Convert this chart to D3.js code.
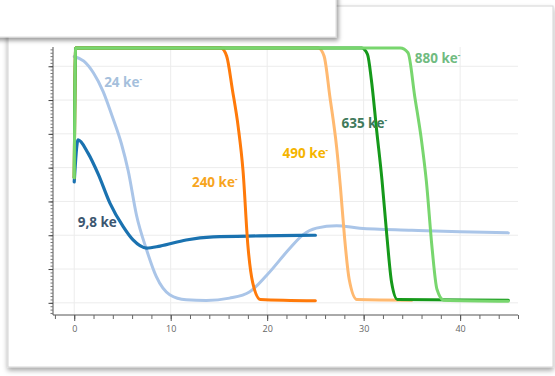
<!DOCTYPE html>
<html>
<head>
<meta charset="utf-8">
<script src="https://cdn.jsdelivr.net/npm/d3@7"></script>
<style>
  html, body { margin: 0; padding: 0; background: #fff; }
  svg { display: block; }
</style>
</head>
<body>
<div id="chart"></div>
<script>
// series, x = time, v = signal (arbitrary units, gridline = 1)
const x24 = [0, 1.0, 2.0, 3.0, 3.9, 4.9, 5.6, 6.45, 7.5, 8.5, 9.9, 11.6, 13.7, 16.1, 18.2, 20, 22.4, 23.7, 25.1, 27.2, 29.6, 35, 40, 45]
const v24 = [7.29, 7.15, 6.8, 6.25, 5.55, 4.7, 3.9, 2.6, 1.57, 0.78, 0.24, 0.09, 0.07, 0.14, 0.33, 0.83, 1.63, 2.01, 2.21, 2.28, 2.21, 2.15, 2.1, 2.07]
const x98 = [0, 0.4, 1.43, 2.5, 3.7, 5.06, 6.1, 7.5, 8.9, 11.6, 14.4, 19.2, 25]
const v98 = [3.58, 4.82, 4.43, 3.8, 2.95, 2.26, 1.86, 1.62, 1.68, 1.86, 1.95, 1.98, 2.0]
const x240 = [0, 0.15, 15.2, 15.8, 16.4, 17.0, 17.5, 18.0, 18.5, 19.3, 25]
const v240 = [3.7, 7.54, 7.54, 7.3, 6.3, 5.2, 3.9, 1.7, 0.6, 0.1, 0.06]
const x490 = [0, 0.15, 25.3, 25.9, 26.5, 27.2, 27.6, 28.0, 28.5, 29.3, 35]
const v490 = [3.7, 7.54, 7.54, 7.3, 6.1, 4.6, 3.4, 2.0, 0.7, 0.1, 0.08]
const x635 = [0, 0.15, 29.8, 30.4, 30.8, 31.35, 31.9, 32.4, 32.9, 33.5, 45]
const v635 = [3.7, 7.54, 7.54, 7.35, 6.6, 5.1, 3.64, 2.0, 0.6, 0.1, 0.08]
const x880 = [0, 0.15, 33.8, 34.6, 35.3, 36.0, 36.5, 37.1, 37.6, 38.3, 45]
const v880 = [3.7, 7.54, 7.54, 7.4, 6.1, 4.8, 3.6, 1.6, 0.4, 0.08, 0.05]

const seriesNames = ['24', '9,8', '240', '490', '635', '880']
const xTicks = [0, 10, 20, 30, 40]
const yTicks = [0, 1, 2, 3, 4, 5, 6, 7]

const width = 555
const height = 376

const svg = d3.select('#chart')
  .append('svg')
  .attr('width', width)
  .attr('height', height)

const defs = svg.append('defs')
const sh = defs.append('filter').attr('id', 'shadow')
  .attr('x', '-5%').attr('y', '-5%').attr('width', '110%').attr('height', '115%')
sh.append('feDropShadow').attr('dx', 0).attr('dy', 3).attr('stdDeviation', 2.5)
  .attr('flood-color', '#000').attr('flood-opacity', 0.35)
const sh2 = defs.append('filter').attr('id', 'shadow2')
  .attr('x', '-5%').attr('y', '-20%').attr('width', '115%').attr('height', '160%')
sh2.append('feDropShadow').attr('dx', 2).attr('dy', 3).attr('stdDeviation', 2)
  .attr('flood-color', '#000').attr('flood-opacity', 0.4)

// card
svg.append('rect')
  .attr('x', 8).attr('y', 6).attr('width', 545).attr('height', 361)
  .attr('fill', '#fff')
  .attr('stroke', '#d4d4d4')
  .attr('filter', 'url(#shadow)')

const x = d3.scaleLinear().domain([-2.2, 46]).range([53, 518])
const y = d3.scaleLinear().domain([-0.36, 7.57]).range([315, 47])

const g = svg.append('g')

// grid
g.selectAll('.hgrid').data(yTicks).enter().append('line')
  .attr('x1', x(-2.2)).attr('x2', x(46))
  .attr('y1', d => y(d)).attr('y2', d => y(d))
  .attr('stroke', '#ececec').attr('stroke-width', 1)
g.selectAll('.vgrid').data(xTicks).enter().append('line')
  .attr('x1', d => x(d)).attr('x2', d => x(d))
  .attr('y1', y(7.57)).attr('y2', y(-0.36))
  .attr('stroke', '#ececec').attr('stroke-width', 1)

// x axis: minor then major
const xMinor = g.append('g').attr('transform', `translate(0,${y(-0.36)})`)
  .call(d3.axisBottom(x).tickValues(d3.range(-2, 47, 2)).tickSize(4).tickFormat(''))
const xMajor = g.append('g').attr('transform', `translate(0,${y(-0.36)})`)
  .call(d3.axisBottom(x).tickValues(xTicks).tickSize(6).tickFormat(d3.format('d')))
xMinor.select('.domain').attr('stroke', '#555').attr('d', `M${x(-2.2)},0H${x(46)}`)
xMajor.select('.domain').remove()
xMinor.selectAll('line').attr('stroke', '#666')
xMajor.selectAll('line').attr('stroke', '#555')
xMajor.selectAll('text').attr('fill', '#666')
  .style('font-family', '"Open Sans", sans-serif').style('font-size', '9px')
  .attr('y', 11)

// y axis: minor then major
const yMinor = g.append('g').attr('transform', `translate(${x(-2.2)},0)`)
  .call(d3.axisLeft(y).tickValues(d3.range(-3, 76).map(d => d / 10)).tickSize(2.5).tickFormat(''))
const yMajor = g.append('g').attr('transform', `translate(${x(-2.2)},0)`)
  .call(d3.axisLeft(y).tickValues(yTicks).tickSize(4.5).tickFormat(''))
yMinor.select('.domain').attr('stroke', '#555').attr('d', `M0,${y(7.57)}V${y(-0.36)}`)
yMajor.select('.domain').remove()
yMinor.selectAll('line').attr('stroke', '#777')
yMajor.selectAll('line').attr('stroke', '#444')

// lines
const line = d3.line()
  .x(d => x(d[0]))
  .y(d => y(d[1]))
  .curve(d3.curveMonotoneX)

const series = [
  { xs: x24, vs: v24, color: '#aac5e8', w: 3 },
  { xs: x98, vs: v98, color: '#1a72b0', w: 3.2 },
  { xs: x240, vs: v240, color: '#ff7a0a', w: 3 },
  { xs: x490, vs: v490, color: '#ffb970', w: 3 },
  { xs: x635, vs: v635, color: '#15991a', w: 3 },
  { xs: x880, vs: v880, color: '#78d66e', w: 3 }
]

g.selectAll('.series').data(series).enter().append('path')
  .attr('d', d => line(d.xs.map((xv, i) => [xv, d.vs[i]])))
  .attr('fill', 'none')
  .attr('stroke', d => d.color)
  .attr('stroke-width', d => d.w)
  .attr('stroke-linecap', 'round')
  .attr('stroke-linejoin', 'round')

// labels
const labels = [
  { name: seriesNames[5], x: 35.3, v: 7.1, color: '#70bb80', sup: true },
  { name: seriesNames[0], x: 3.1, v: 6.4, color: '#a5bfdc', sup: true },
  { name: seriesNames[4], x: 27.7, v: 5.18, color: '#3f7a5c', sup: true },
  { name: seriesNames[3], x: 21.6, v: 4.29, color: '#f5b400', sup: true },
  { name: seriesNames[2], x: 12.2, v: 3.43, color: '#f7a51e', sup: true },
  { name: seriesNames[1], x: 0.36, v: 2.25, color: '#3b5670', sup: false }
]

const lab = g.selectAll('.lab').data(labels).enter().append('text')
  .attr('x', d => x(d.x))
  .attr('y', d => y(d.v))
  .attr('fill', d => d.color)
  .style('font-family', '"Open Sans", sans-serif')
  .style('font-weight', 'bold')
  .style('font-size', '13.5px')
lab.append('tspan').text(d => d.name + ' ke')
lab.filter(d => d.sup).append('tspan')
  .attr('dy', -5).style('font-size', '8px').text('-')

// overlay box at top left
svg.append('rect')
  .attr('x', -6).attr('y', -6).attr('width', 342).attr('height', 43)
  .attr('fill', '#fff')
  .attr('stroke', '#ddd')
  .attr('filter', 'url(#shadow2)')
</script>
</body>
</html>
